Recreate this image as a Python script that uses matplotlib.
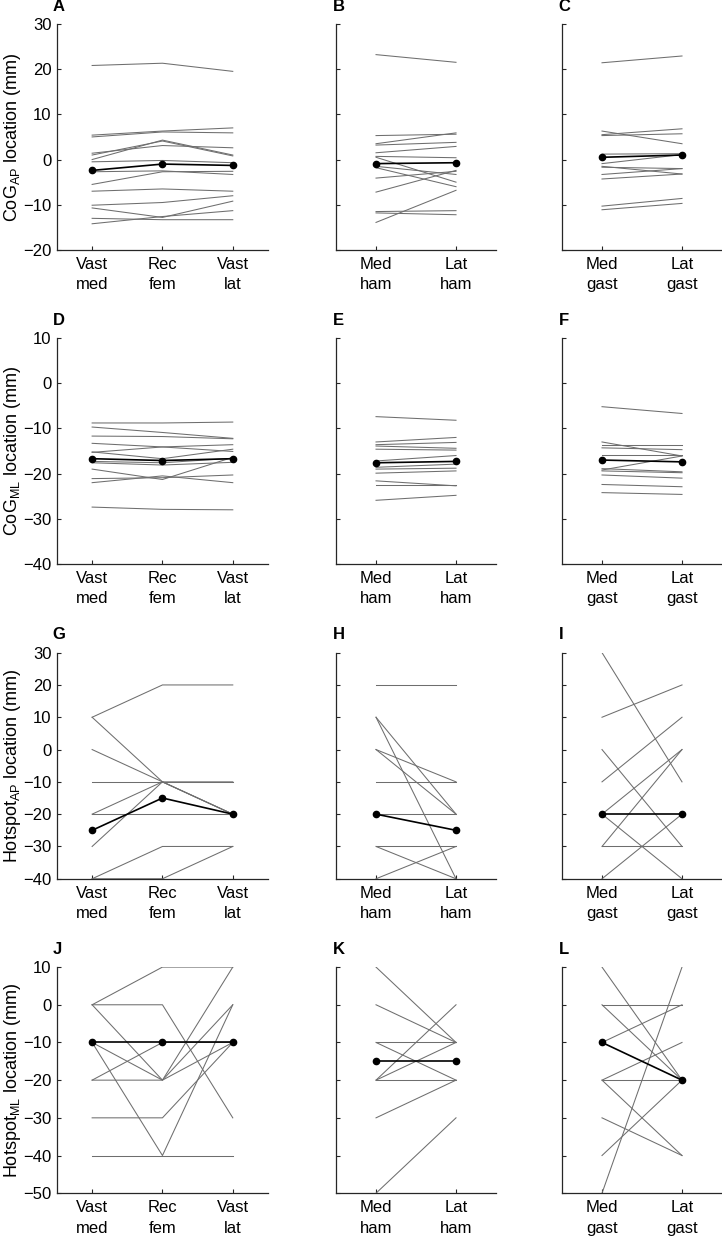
import matplotlib
matplotlib.use("Agg")
import matplotlib.pyplot as plt

plt.rcParams["font.family"] = ["Liberation Sans", "DejaVu Sans"]
plt.rcParams["mathtext.fontset"] = "custom"
plt.rcParams["mathtext.rm"] = "Liberation Sans"
plt.rcParams["mathtext.it"] = "Liberation Sans:italic"
plt.rcParams["mathtext.bf"] = "Liberation Sans:bold"

quad_labels = ["Vast\nmed", "Rec\nfem", "Vast\nlat"]
ham_labels = ["Med\nham", "Lat\nham"]
gast_labels = ["Med\ngast", "Lat\ngast"]

# CoG AP (mm) -- one row per subject, mean separately
cog_ap_quad = [[20.8, 21.3, 19.5], [5.4, 6.3, 7.0], [5.0, 6.1, 5.9], [1.4, 3.1, 2.6],
               [0.0, 4.3, 1.0], [1.0, 4.1, 0.8], [-0.5, -0.2, -0.7], [-2.7, -2.5, -3.3],
               [-5.5, -2.7, -2.6], [-7.0, -6.5, -7.0], [-10.1, -9.5, -8.0],
               [-10.7, -12.8, -9.2], [-14.2, -12.6, -11.3], [-13.0, -13.3, -13.3]]
cog_ap_quad_mean = [-2.4, -1.0, -1.3]
cog_ap_ham = [[23.2, 21.5], [5.3, 5.6], [3.5, 5.9], [3.2, 3.8], [1.5, 2.9], [0.7, 0.4],
              [0.5, -5.0], [-1.5, -3.3], [-1.8, -6.0], [-4.1, -2.6], [-7.2, -2.4],
              [-13.9, -6.8], [-11.5, -11.3], [-11.8, -12.2]]
cog_ap_ham_mean = [-0.9, -0.7]
cog_ap_gast = [[21.4, 22.9], [6.3, 3.5], [5.5, 6.8], [5.3, 5.7], [1.2, 1.3], [-0.9, 1.1],
               [-1.5, -3.2], [-1.7, -2.0], [-3.3, -2.0], [-4.3, -3.2], [-10.3, -8.6],
               [-11.1, -9.7]]
cog_ap_gast_mean = [0.5, 1.0]

# CoG ML (mm)
cog_ml_quad = [[-8.8, -8.8, -8.6], [-9.7, -10.9, -12.2], [-11.7, -11.8, -12.3],
               [-13.3, -14.1, -13.6], [-15.3, -14.1, -15.1], [-15.2, -16.7, -14.6],
               [-17.3, -17.6, -16.6], [-17.6, -18.1, -17.5], [-19.0, -21.3, -16.4],
               [-21.1, -20.9, -20.3], [-22.0, -20.5, -22.0], [-27.4, -27.9, -28.0]]
cog_ml_quad_mean = [-16.7, -17.1, -16.7]
cog_ml_ham = [[-7.4, -8.2], [-13.0, -12.0], [-13.6, -13.1], [-13.9, -14.4], [-14.6, -14.8],
              [-17.2, -16.0], [-18.6, -17.9], [-19.0, -18.8], [-19.9, -19.4],
              [-21.6, -22.7], [-22.6, -22.6], [-25.9, -24.8]]
cog_ml_ham_mean = [-17.6, -17.3]
cog_ml_gast = [[-5.2, -6.7], [-13.0, -16.1], [-13.6, -13.6], [-14.3, -14.7], [-15.8, -15.8],
               [-19.2, -16.1], [-18.9, -19.6], [-19.4, -19.8], [-20.3, -21.0],
               [-22.4, -22.9], [-24.2, -24.6]]
cog_ml_gast_mean = [-17.0, -17.4]

# Hotspot AP (mm)
hot_ap_quad = [[10, 20, 20], [10, -10, -20], [0, -10, -20], [-10, -10, -10],
               [-20, -10, -10], [-20, -20, -20], [-30, -10, -20], [-40, -30, -30],
               [-40, -40, -30]]
hot_ap_quad_mean = [-25, -15, -20]
hot_ap_ham = [[20, 20], [10, -20], [10, -40], [0, -10], [0, -20], [-10, -10], [-20, -20],
              [-30, -30], [-30, -40], [-40, -30]]
hot_ap_ham_mean = [-20, -25]
hot_ap_gast = [[30, -10], [10, 20], [0, -30], [-10, 10], [-20, 0], [-30, 0], [-30, -30],
               [-20, -40], [-40, -20]]
hot_ap_gast_mean = [-20, -20]

# Hotspot ML (mm)
hot_ml_quad = [[0, 10, 10], [0, 0, -30], [0, -20, 10], [-10, -20, 0], [-20, -20, -10],
               [-10, -40, 0], [-40, -40, -40], [-30, -30, -10], [-20, -10, -10]]
hot_ml_quad_mean = [-10, -10, -10]
hot_ml_ham = [[10, -10], [0, -10], [-10, -10], [-10, -20], [-20, 0], [-20, -10],
              [-20, -20], [-30, -20], [-50, -30]]
hot_ml_ham_mean = [-15, -15]
hot_ml_gast = [[10, -20], [0, 0], [0, -20], [-10, 0], [-20, -10], [-20, -20], [-20, -40],
               [-30, -40], [-40, -20], [-50, 10]]
hot_ml_gast_mean = [-10, -20]

rows = [
    ("CoG$_{\\mathrm{AP}}$ location (mm)", (-20, 30),
     [(cog_ap_quad, cog_ap_quad_mean), (cog_ap_ham, cog_ap_ham_mean), (cog_ap_gast, cog_ap_gast_mean)]),
    ("CoG$_{\\mathrm{ML}}$ location (mm)", (-40, 10),
     [(cog_ml_quad, cog_ml_quad_mean), (cog_ml_ham, cog_ml_ham_mean), (cog_ml_gast, cog_ml_gast_mean)]),
    ("Hotspot$_{\\mathrm{AP}}$ location (mm)", (-40, 30),
     [(hot_ap_quad, hot_ap_quad_mean), (hot_ap_ham, hot_ap_ham_mean), (hot_ap_gast, hot_ap_gast_mean)]),
    ("Hotspot$_{\\mathrm{ML}}$ location (mm)", (-50, 10),
     [(hot_ml_quad, hot_ml_quad_mean), (hot_ml_ham, hot_ml_ham_mean), (hot_ml_gast, hot_ml_gast_mean)]),
]
col_labels = [quad_labels, ham_labels, gast_labels]
letters = "ABCDEFGHIJKL"

col_left = [0.0789, 0.4654, 0.7784]
col_width = [0.2922, 0.2216, 0.2216]
row_bottom = [0.7979, 0.5440, 0.2896, 0.0354]
row_height = 0.1828

fig = plt.figure(figsize=(7.22, 12.37), dpi=100)

for r, (ylabel, ylim, panels) in enumerate(rows):
    for c, (subjects, mean) in enumerate(panels):
        ax = fig.add_axes([col_left[c], row_bottom[r], col_width[c], row_height])
        labels = col_labels[c]
        x = list(range(1, len(labels) + 1))
        for s in subjects:
            ax.plot(x, s, color="#6e6e6e", linewidth=0.75, zorder=2)
        ax.plot(x, mean, color="black", linewidth=1.2, marker="o", markersize=4.5, zorder=3)

        ax.set_xlim(0.5, len(labels) + 0.5)
        ax.set_ylim(*ylim)
        ax.set_yticks(range(ylim[0], ylim[1] + 1, 10))
        ax.set_xticks(x)
        ax.set_xticklabels(labels, linespacing=1.45)
        for side in ("top", "right"):
            ax.spines[side].set_visible(False)
        for side in ("left", "bottom"):
            ax.spines[side].set_color("#262626")
            ax.spines[side].set_linewidth(0.9)
        ax.tick_params(direction="in", length=3, width=0.8, color="#262626",
                       labelsize=12, labelcolor="black")
        ax.tick_params(axis="x", pad=5)
        ax.tick_params(axis="y", pad=4)
        if c == 0:
            ax.set_ylabel(ylabel, fontsize=13)
            ax.yaxis.set_label_coords(-0.16, 0.5)
        else:
            ax.set_yticklabels([])
        ax.text(-0.02, 1.045, letters[r * 3 + c], transform=ax.transAxes,
                ha="left", va="bottom", fontsize=12, fontweight="bold")

fig.savefig("out.png", dpi=100)
